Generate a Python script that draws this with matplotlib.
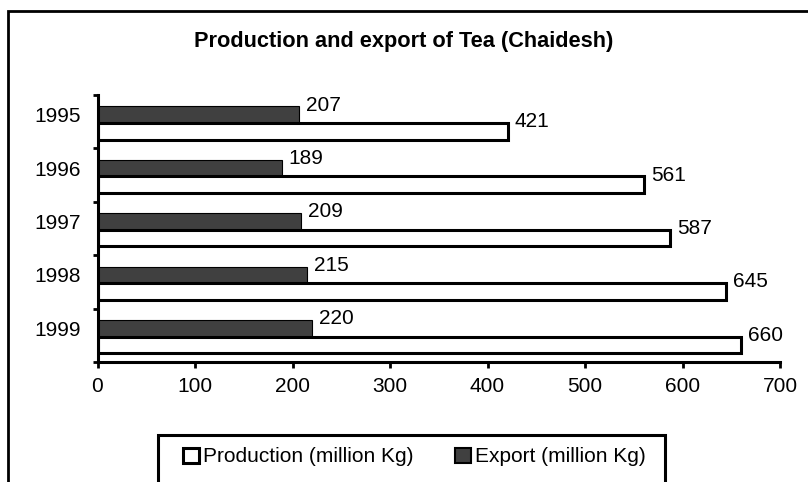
import matplotlib
matplotlib.use("Agg")
import matplotlib.pyplot as plt
import matplotlib.patches as mpatches
import numpy as np

plt.rcParams["font.family"] = ["Liberation Sans", "DejaVu Sans"]

# Données
years = ["1995", "1996", "1997", "1998", "1999"]
production = [421, 561, 587, 645, 660]
export = [207, 189, 209, 215, 220]

DARK = "#404040"
W, H = 808, 482

fig = plt.figure(figsize=(W / 100, H / 100), dpi=100)
ax = fig.add_axes([97.5 / W, 1 - 362 / H, (780 - 97.5) / W, (362 - 95) / H])

y = np.arange(len(years))
h = 0.31
ax.barh(y - 0.13, export, height=h, color=DARK, edgecolor="black", linewidth=0.8)
ax.barh(y + 0.18, production, height=h, color="white", edgecolor="black", linewidth=2.2)

# Étiquettes de valeurs (au niveau du bord supérieur de chaque barre)
for yi, v in zip(y - 0.13 - h / 2, export):
    ax.annotate(str(v), (v, yi), xytext=(5, 1), textcoords="offset points",
                va="center", ha="left", fontsize=15)
for yi, v in zip(y + 0.18 - h / 2, production):
    ax.annotate(str(v), (v, yi), xytext=(5, 1), textcoords="offset points",
                va="center", ha="left", fontsize=15)

ax.set_xlim(0, 700)
ax.set_ylim(len(years) - 0.5, -0.5)
ax.set_xticks(range(0, 701, 100))
ax.set_yticks(y - 0.13)
ax.set_yticklabels(years)
ax.set_yticks(np.arange(-0.5, len(years)), minor=True)
ax.tick_params(axis="x", direction="out", length=4, width=2, labelsize=15, pad=7)
ax.tick_params(axis="y", which="major", length=0, labelsize=15, pad=12)
ax.tick_params(axis="y", which="minor", direction="out", length=3.5, width=2)

for s in ["top", "right"]:
    ax.spines[s].set_visible(False)
for s in ["left", "bottom"]:
    ax.spines[s].set_linewidth(2.2)

fig.text(0.5, 1 - 46.5 / H, "Production and export of Tea (Chaidesh)",
         ha="center", va="baseline", fontsize=15.7, fontweight="bold")

# Cadre extérieur (coupé à droite et en bas)
fig.add_artist(mpatches.Rectangle((8 / W, -0.1), 1.2, 1.1 - 11 / H,
                                  transform=fig.transFigure, fill=False,
                                  edgecolor="black", linewidth=2, clip_on=False))

# Légende
handles = [
    mpatches.Patch(facecolor="white", edgecolor="black", linewidth=2.2,
                   label="Production (million Kg)"),
    mpatches.Patch(facecolor=DARK, edgecolor="black", linewidth=1.5,
                   label="Export (million Kg)"),
]
fig.legend(handles=handles, loc="center left", ncol=2, frameon=False,
           bbox_to_anchor=(183 / W, 1 - 457 / H), fontsize=15,
           handlelength=0.75, handleheight=0.75, handletextpad=0.2,
           columnspacing=2.0, borderpad=0, borderaxespad=0)
fig.add_artist(mpatches.Rectangle((158 / W, -0.1), (665 - 158) / W, 0.1 + 1 - 435 / H,
                                  transform=fig.transFigure, fill=False,
                                  edgecolor="black", linewidth=2.2, clip_on=False))

plt.savefig("out.png", dpi=100)
plt.close()
